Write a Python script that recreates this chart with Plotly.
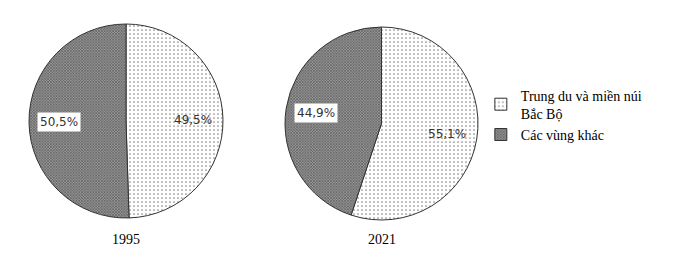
import math
import plotly.graph_objects as go

years = ["1995", "2021"]
regions = ["Trung du và miền núi<br>Bắc Bộ", "Các vùng khác"]
share_tdmn = [49.5, 55.1]
share_other = [50.5, 44.9]
label_text = [["49,5%", "50,5%"], ["55,1%", "44,9%"]]

domains_x = [[29/683, 223/683], [285/683, 478/683]]
domains_y = [[1-219/265, 1-23/265], [1-220/265, 1-27/265]]

patterns = [
    dict(shape=".", bgcolor="white", fgcolor="#8a8a8a", size=4, solidity=0.15),
    dict(shape="x", bgcolor="#9a9a9a", fgcolor="#505050", size=2, solidity=0.5),
]

SERIF = "Liberation Serif"

fig = go.Figure()
for i, yr in enumerate(years):
    vals = [share_tdmn[i], share_other[i]]
    fig.add_trace(go.Pie(
        labels=regions, values=vals, sort=False, direction="clockwise", rotation=0,
        textinfo="none", hoverinfo="skip",
        textfont=dict(family=SERIF, size=14, color="black"),
        marker=dict(colors=["white", "#8a8a8a"],
                    pattern=dict(shape=[p["shape"] for p in patterns],
                                 bgcolor=[p["bgcolor"] for p in patterns],
                                 fgcolor=[p["fgcolor"] for p in patterns],
                                 size=[p["size"] for p in patterns],
                                 solidity=[p["solidity"] for p in patterns]),
                    line=dict(color="#333", width=1)),
        domain=dict(x=domains_x[i], y=domains_y[i]),
        showlegend=(i == 0),
    ))
    cx = (domains_x[i][0] + domains_x[i][1]) / 2 * 683
    cy = (1 - (domains_y[i][0] + domains_y[i][1]) / 2) * 265
    r = min((domains_x[i][1]-domains_x[i][0])*683, (domains_y[i][1]-domains_y[i][0])*265) / 2
    cum = 0
    total = sum(vals)
    for j, v in enumerate(vals):
        mid = (cum + v / 2) / total * 2 * math.pi
        cum += v
        px = cx + 0.69 * r * math.sin(mid)
        py = cy - 0.69 * r * math.cos(mid)
        fig.add_annotation(
            x=px / 683, y=1 - py / 265, xref="paper", yref="paper",
            xanchor="center", yanchor="middle",
            text=label_text[i][j], showarrow=False,
            font=dict(family="DejaVu Sans", size=12, color="#333"),
            bgcolor="white" if j == 1 else "rgba(0,0,0,0)", borderpad=2,
        )
    fig.add_annotation(
        x=cx / 683, y=1 - 239 / 265, xref="paper", yref="paper", text=yr,
        xanchor="center", yanchor="middle",
        showarrow=False, font=dict(family=SERIF, size=14, color="black"),
    )

fig.update_layout(
    width=683, height=265, margin=dict(l=0, r=0, t=0, b=0),
    paper_bgcolor="white", plot_bgcolor="white",
    font=dict(family=SERIF, size=14, color="black"),
    legend=dict(x=0.704, y=0.70, xanchor="left", yanchor="top",
                font=dict(family=SERIF, size=14, color="black"),
                itemwidth=30),
)
fig.write_html("out.html")
